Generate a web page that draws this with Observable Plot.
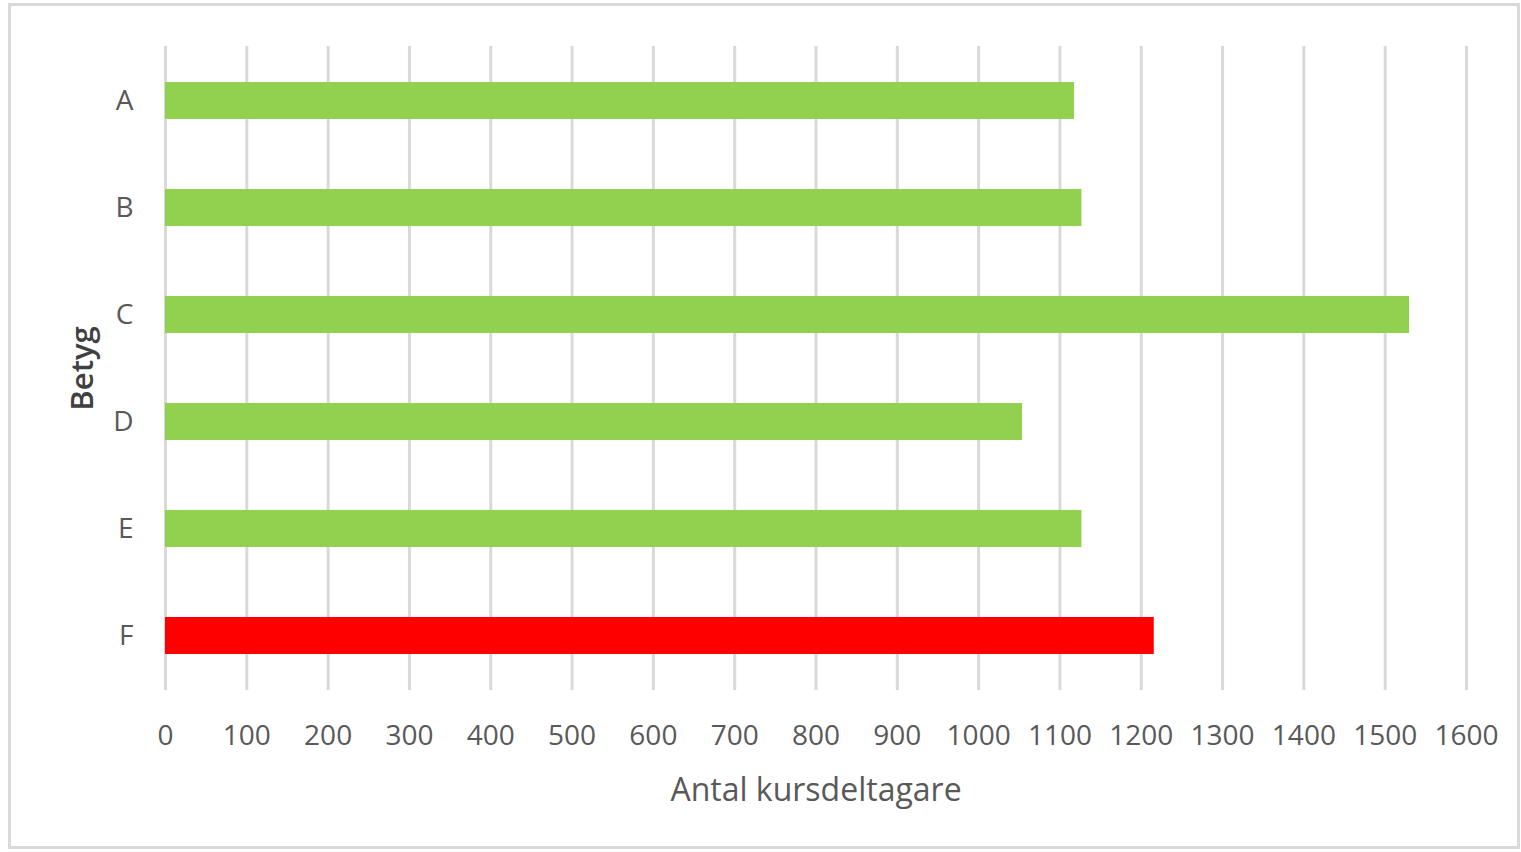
<!DOCTYPE html>
<html>
<head>
<meta charset="utf-8">
<script src="https://cdn.jsdelivr.net/npm/d3@7"></script>
<script src="https://cdn.jsdelivr.net/npm/@observablehq/plot@0.6"></script>
<style>
  html, body { margin: 0; padding: 0; background: #fff; }
  #wrap { position: relative; width: 1521px; height: 852px; overflow: hidden; }
  #frame { position: absolute; left: 8px; top: 3px; width: 1512px; height: 846px;
           border: 3px solid #d9d9d9; box-sizing: border-box; pointer-events: none; }
</style>
</head>
<body>
<div id="wrap"><div id="frame"></div></div>
<script>
const grades = ["A", "B", "C", "D", "E", "F"];
const counts = [1118, 1127, 1530, 1054, 1127, 1216];
const xTicks = [0, 100, 200, 300, 400, 500, 600, 700, 800, 900, 1000, 1100, 1200, 1300, 1400, 1500, 1600];
const xTitle = "Antal kursdeltagare";
const yTitle = "Betyg";

const data = grades.map((g, i) => ({grade: g, count: counts[i]}));

const chart = Plot.plot({
  width: 1521,
  height: 852,
  marginLeft: 165,
  marginRight: 55,
  marginTop: 46,
  marginBottom: 162,
  style: {fontFamily: "'Open Sans', sans-serif", fontSize: "28px", color: "#595959", background: "transparent"},
  x: {domain: [0, 1600], ticks: xTicks, tickFormat: d => String(d), tickSize: 0, tickPadding: 35, label: null},
  y: {domain: grades, paddingInner: 0.655, paddingOuter: 0.3275, tickSize: 0, tickPadding: 32, label: null},
  color: {domain: ["pass", "fail"], range: ["#92d050", "#ff0000"]},
  marks: [
    Plot.ruleX(xTicks, {stroke: "#d9d9d9", strokeWidth: 3}),
    Plot.barX(data, {x: "count", y: "grade", fill: d => d.grade === "F" ? "fail" : "pass"}),
    Plot.text([xTitle], {frameAnchor: "bottom", dy: 100, lineAnchor: "middle", textAnchor: "middle", fill: "#595959", fontSize: 32}),
    Plot.text([yTitle], {frameAnchor: "left", dx: -82, rotate: -90, textAnchor: "middle", lineAnchor: "middle", fill: "#404040", fontSize: 31, fontWeight: 600})
  ]
});
document.getElementById("wrap").appendChild(chart);
</script>
</body>
</html>
